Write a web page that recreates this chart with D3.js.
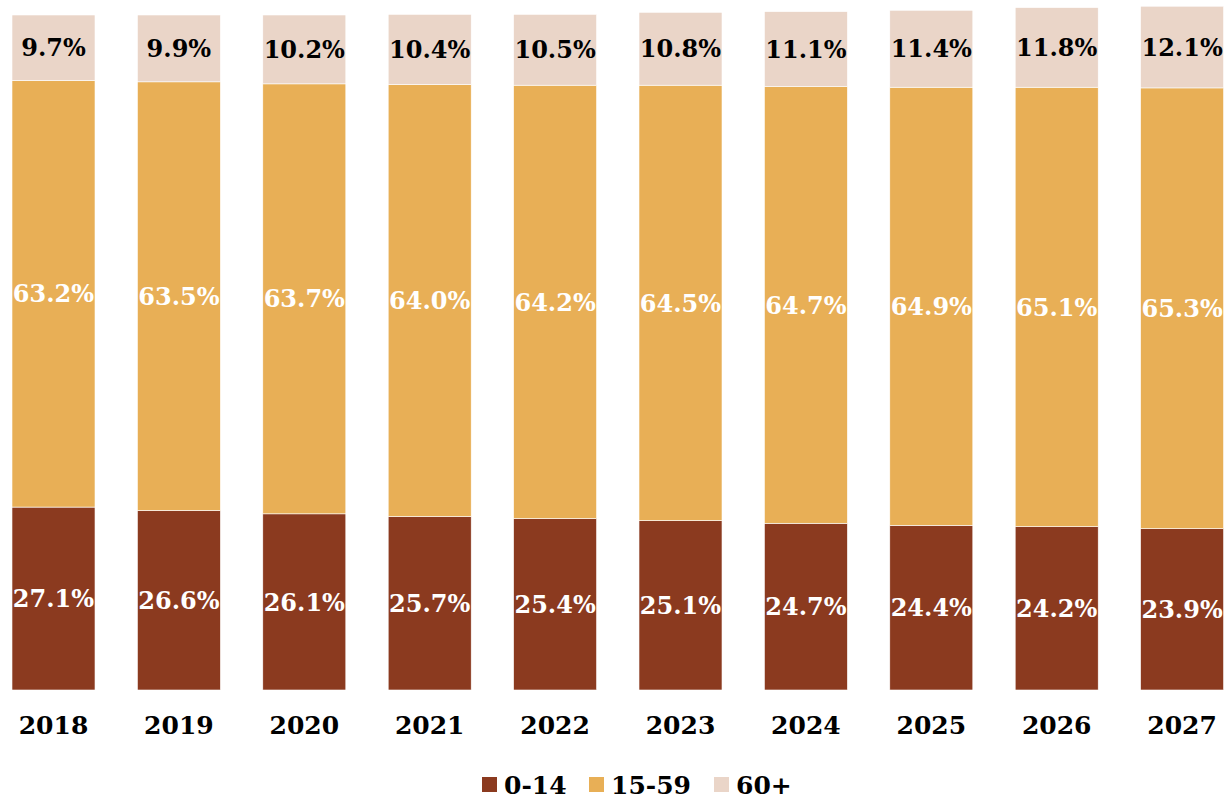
<!DOCTYPE html>
<html>
<head>
<meta charset="utf-8">
<script src="https://cdn.jsdelivr.net/npm/d3@7"></script>
<style>
  body { margin: 0; background: #fff; }
  text { font-family: "DejaVu Serif", serif; font-weight: bold; }
</style>
</head>
<body>
<div id="chart"></div>
<script>
const years = ["2018", "2019", "2020", "2021", "2022", "2023", "2024", "2025", "2026", "2027"];
const age0to14 = [27.1, 26.6, 26.1, 25.7, 25.4, 25.1, 24.7, 24.4, 24.2, 23.9];
const age15to59 = [63.2, 63.5, 63.7, 64.0, 64.2, 64.5, 64.7, 64.9, 65.1, 65.3];
const age60plus = [9.7, 9.9, 10.2, 10.4, 10.5, 10.8, 11.1, 11.4, 11.8, 12.1];
const seriesNames = ["0-14", "15-59", "60+"];

const width = 1224, height = 799;
const colors = ["#8B3A1F", "#E8AF56", "#EAD5C8"];
const labelColors = ["#fff", "#fff", "#000"];

const svg = d3.select("#chart").append("svg")
    .attr("width", width)
    .attr("height", height);

// one row per year, columns are the age groups
const rows = years.map((y, i) => ({year: y, "0-14": age0to14[i], "15-59": age15to59[i], "60+": age60plus[i]}));
const stacked = d3.stack().keys(seriesNames)(rows);

const x = d3.scaleBand()
    .domain(years)
    .range([-9.2, 1244.8])
    .paddingInner(0.338)
    .paddingOuter(0.169);

const y = d3.scaleLinear()
    .domain([0, 100])
    .range([690, 15]);

const groups = svg.selectAll("g.series")
    .data(stacked)
    .enter()
    .append("g")
    .attr("class", "series");

groups.selectAll("rect")
    .data(d => d)
    .enter()
    .append("rect")
    .attr("x", d => x(d.data.year))
    .attr("width", x.bandwidth())
    .attr("y", d => y(d[1]))
    .attr("height", d => y(d[0]) - y(d[1]))
    .attr("fill", (d, i, n) => colors[seriesNames.indexOf(n[i].parentNode.__data__.key)])
    .attr("stroke", "#fff")
    .attr("stroke-width", 0.6);

// value labels centred in each segment
groups.each(function(s, si) {
    d3.select(this).selectAll("text")
        .data(s)
        .enter()
        .append("text")
        .attr("x", d => x(d.data.year) + x.bandwidth() / 2)
        .attr("y", d => (y(d[0]) + y(d[1])) / 2)
        .attr("dy", "0.36em")
        .attr("text-anchor", "middle")
        .attr("font-size", 24)
        .attr("fill", labelColors[si])
        .text(d => d.data[s.key].toFixed(1) + "%");
});

// year axis
const xAxis = svg.append("g")
    .attr("transform", "translate(0,690)")
    .call(d3.axisBottom(x).tickSize(0).tickPadding(26));
xAxis.select(".domain").remove();
xAxis.selectAll("text")
    .attr("font-size", 25)
    .attr("fill", "#000")
    .attr("font-family", "DejaVu Serif")
    .attr("font-weight", "bold");

// legend
const legendX = [482, 589, 714];
const legend = svg.append("g").attr("transform", "translate(0,785)");
seriesNames.forEach((name, i) => {
    legend.append("rect")
        .attr("x", legendX[i])
        .attr("y", -8)
        .attr("width", 15)
        .attr("height", 15)
        .attr("fill", colors[i]);
    legend.append("text")
        .attr("x", legendX[i] + 22)
        .attr("y", 0)
        .attr("dy", "0.36em")
        .attr("font-size", 25)
        .attr("fill", "#000")
        .text(name);
});
</script>
</body>
</html>
